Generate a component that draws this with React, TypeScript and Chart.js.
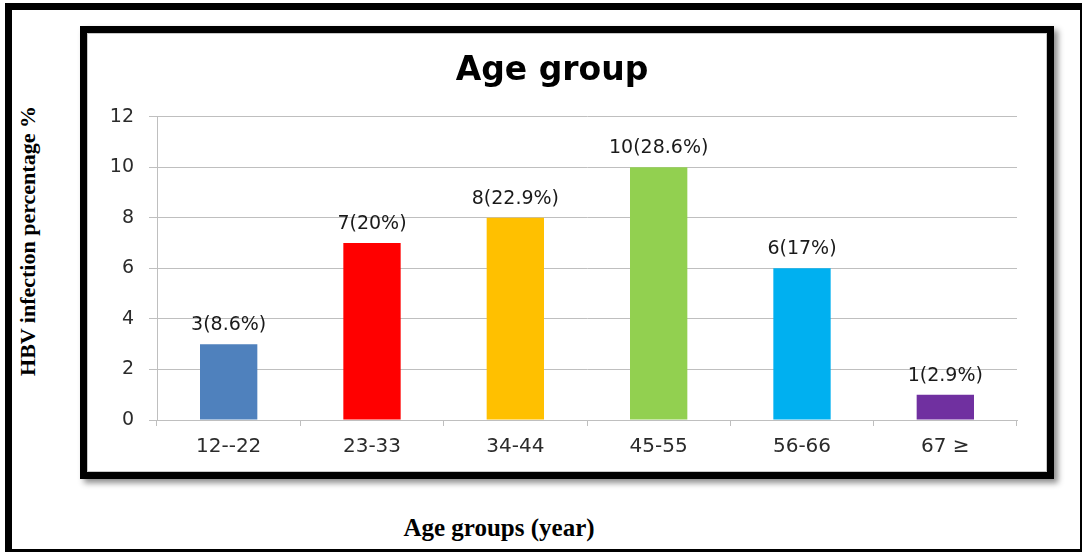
import React, { useEffect, useRef } from "react";
import { Chart, registerables } from "chart.js";

Chart.register(...registerables);

const categories: string[] = ["12--22", "23-33", "34-44", "45-55", "56-66", "67 ≥"];
const counts: number[] = [3, 7, 8, 10, 6, 1];
const percents: string[] = ["8.6%", "20%", "22.9%", "28.6%", "17%", "2.9%"];
const barColors: string[] = ["#4F81BD", "#FF0000", "#FFC000", "#92D050", "#00B0F0", "#7030A0"];
const yMin = 0;
const yMax = 12;
const yStep = 2;

const chartTitle = "Age group";
const yTitle = "HBV infection percentage %";
const xTitle = "Age groups (year)";

const FONT = '"DejaVu Sans", "Open Sans", sans-serif';
const SERIF = '"Liberation Serif", "Times New Roman", "DejaVu Serif", serif';

const dataLabelPlugin = {
  id: "barValueLabels",
  afterDatasetsDraw(chart: any) {
    const ctx = chart.ctx;
    const meta = chart.getDatasetMeta(0);
    ctx.save();
    ctx.font = `19px ${FONT}`;
    ctx.fillStyle = "#1a1a1a";
    ctx.textAlign = "center";
    ctx.textBaseline = "alphabetic";
    meta.data.forEach((bar: any, i: number) => {
      ctx.fillText(`${counts[i]}(${percents[i]})`, bar.x, bar.y - 14);
    });
    ctx.restore();
  },
};

export default function App() {
  const canvasRef = useRef<HTMLCanvasElement | null>(null);

  useEffect(() => {
    if (!canvasRef.current) return;
    const chart = new Chart(canvasRef.current, {
      type: "bar",
      data: {
        labels: categories,
        datasets: [
          {
            data: counts,
            backgroundColor: barColors,
            borderWidth: 0,
            barPercentage: 0.4,
            categoryPercentage: 1,
          },
        ],
      },
      options: {
        responsive: false,
        animation: false,
        layout: { padding: { left: 0, right: 30, top: 0, bottom: 0 } },
        plugins: {
          legend: { display: false },
          tooltip: { enabled: false },
          title: {
            display: true,
            text: chartTitle,
            color: "#000",
            font: { family: FONT, size: 33, weight: "bold" },
            padding: { top: 19, bottom: 25 },
          },
        },
        scales: {
          x: {
            grid: {
              offset: true,
              drawOnChartArea: false,
              drawTicks: true,
              tickLength: 6,
              color: "#bfbfbf",
            },
            border: { display: true, color: "#bfbfbf" },
            ticks: {
              padding: 9,
              color: "#2b2b2b",
              font: { family: FONT, size: 20 },
              maxRotation: 0,
              autoSkip: false,
            },
            afterFit: (s: any) => {
              s.height = 52;
            },
          },
          y: {
            min: yMin,
            max: yMax,
            ticks: {
              stepSize: yStep,
              padding: 15,
              color: "#2b2b2b",
              font: { family: FONT, size: 19 },
            },
            grid: { color: "#bfbfbf", tickLength: 8 },
            border: { display: true, color: "#bfbfbf" },
            afterFit: (s: any) => {
              s.width = 70;
            },
          },
        },
      } as any,
      plugins: [dataLabelPlugin],
    });
    return () => chart.destroy();
  }, []);

  return (
    <div
      style={{
        position: "absolute",
        left: 0,
        top: 0,
        width: 1085,
        height: 553,
        background: "#fff",
        overflow: "hidden",
      }}
    >
      <div
        style={{
          position: "absolute",
          left: 5,
          top: 3,
          width: 1077,
          height: 549,
          boxSizing: "border-box",
          borderTop: "7px solid #000",
          borderLeft: "7px solid #000",
          borderRight: "2px solid #000",
          borderBottom: "3px solid #000",
        }}
      />
      <div
        style={{
          position: "absolute",
          left: 80,
          top: 26,
          width: 974,
          height: 453,
          boxSizing: "border-box",
          border: "7px solid #000",
          background: "#fff",
          boxShadow: "4px 4px 6px rgba(0,0,0,0.45), inset 0 0 0 1px #c8c8c8",
        }}
      >
        <canvas
          ref={canvasRef}
          width={960}
          height={439}
          style={{ position: "absolute", left: 0, top: 0 }}
        />
      </div>
      <div
        style={{
          position: "absolute",
          left: 28,
          top: 241,
          transform: "translate(-50%, -50%) rotate(-90deg)",
          whiteSpace: "nowrap",
          fontFamily: SERIF,
          fontWeight: "bold",
          fontSize: 22,
          color: "#000",
          lineHeight: "24px",
        }}
      >
        {yTitle}
      </div>
      <div
        style={{
          position: "absolute",
          left: 499,
          top: 528,
          transform: "translate(-50%, -50%)",
          whiteSpace: "nowrap",
          fontFamily: SERIF,
          fontWeight: "bold",
          fontSize: 25,
          color: "#000",
          lineHeight: "28px",
        }}
      >
        {xTitle}
      </div>
    </div>
  );
}
